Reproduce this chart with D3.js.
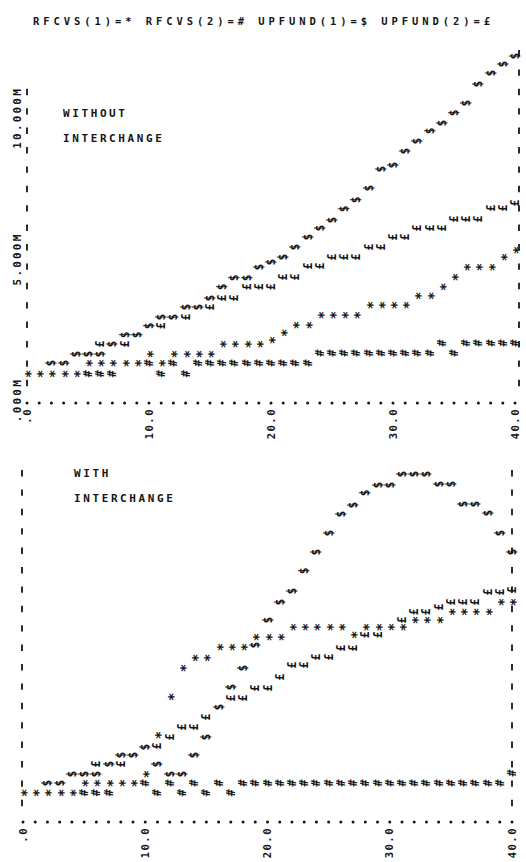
<!DOCTYPE html>
<html>
<head>
<meta charset="utf-8">
<script src="https://cdn.jsdelivr.net/npm/d3@7"></script>
<style>
  body { margin: 0; background: #fff; }
  svg text { font-family: "DejaVu Sans Mono", monospace; font-weight: bold; fill: #161616; }
</style>
</head>
<body>
<svg id="chart" width="526" height="862"></svg>
<script>
// time steps (one printed column per step)
const times = [0,1,2,3,4,5,6,7,8,9,10,11,12,13,14,15,16,17,18,19,20,
               21,22,23,24,25,26,27,28,29,30,31,32,33,34,35,36,37,38,39,40];
const xTicks = [0, 10, 20, 30, 40];
const xTickLabels = [".0", "10.0", "20.0", "30.0", "40.0"];
const yTicks = [0, 5, 10];
const yTickLabels = [".000M", "5.000M", "10.000M"];
const legendText = "RFCVS(1)=*   RFCVS(2)=#   UPFUND(1)=$   UPFUND(2)=£";
const seriesSymbols = ["*", "#", "$", "£"];

// values in millions
// top panel: without interchange
const withoutRfcvs1 = [0.21,0.21,0.21,0.21,0.21,0.58,0.58,0.58,0.58,0.58,0.89,0.58,0.89,0.89,0.89,0.89,
  1.24,1.24,1.24,1.24,1.37,1.62,1.89,1.89,2.23,2.23,2.23,2.23,2.58,2.58,2.58,2.58,2.89,2.89,3.20,3.54,
  3.88,3.88,3.88,4.23,4.47];
const withoutRfcvs2 = [0.21,0.21,0.21,0.21,0.21,0.21,0.21,0.21,0.58,0.58,0.58,0.21,0.58,0.21,0.58,0.58,
  0.58,0.58,0.58,0.58,0.58,0.58,0.58,0.58,0.93,0.93,0.93,0.93,0.93,0.93,0.93,0.93,0.93,0.93,1.27,0.93,
  1.27,1.27,1.27,1.27,1.27];
const withoutUpfund1 = [0.21,0.21,0.58,0.58,0.89,0.89,0.89,1.24,1.55,1.55,1.86,2.16,2.16,2.51,2.51,2.82,
  3.20,3.51,3.51,3.88,4.05,4.23,4.57,4.91,5.22,5.50,5.88,6.19,6.60,7.25,7.39,7.87,8.21,8.56,8.83,9.18,
  9.52,10.17,10.55,10.86,11.13];
const withoutUpfund2 = [0.21,0.21,0.58,0.58,0.89,0.89,1.24,1.24,1.24,1.55,1.86,1.86,2.16,2.16,2.51,2.51,
  2.82,2.82,3.20,3.20,3.20,3.54,3.54,3.92,3.92,4.23,4.23,4.23,4.57,4.57,4.91,4.91,5.22,5.22,5.22,5.53,
  5.53,5.53,5.91,5.91,6.08];

// bottom panel: with interchange
const withRfcvs1 = [0.21,0.21,0.21,0.21,0.21,0.55,0.55,0.55,0.55,0.55,0.86,2.20,3.51,4.50,4.85,4.85,
  5.22,5.22,5.22,5.57,5.57,5.57,5.91,5.91,5.91,5.91,5.91,5.64,5.91,5.91,5.91,5.91,6.15,6.15,6.15,6.43,
  6.43,6.43,6.43,6.77,6.77];
const withRfcvs2 = [0.21,0.21,0.21,0.21,0.21,0.21,0.21,0.21,0.55,0.55,0.55,0.21,0.55,0.21,0.55,0.21,
  0.55,0.21,0.55,0.55,0.55,0.55,0.55,0.55,0.55,0.55,0.55,0.55,0.55,0.55,0.55,0.55,0.55,0.55,0.55,0.55,
  0.55,0.55,0.55,0.55,0.89];
const withUpfund1 = [0.21,0.21,0.55,0.55,0.86,0.86,0.86,1.20,1.51,1.51,1.79,1.20,0.86,0.86,1.51,2.13,
  3.16,3.85,4.50,5.29,6.15,6.77,7.15,7.84,8.49,9.14,9.79,10.10,10.52,10.79,10.79,11.17,11.17,11.17,
  10.82,10.82,10.14,10.14,9.83,9.14,8.49];
const withUpfund2 = [0.21,0.21,0.55,0.55,0.86,0.86,1.20,1.20,1.20,1.51,1.79,1.82,2.13,2.47,2.47,2.82,
  3.16,3.47,3.47,3.81,3.81,4.19,4.60,4.60,4.88,4.88,5.19,5.19,5.64,5.64,5.91,6.15,6.43,6.43,6.60,6.77,
  6.77,6.77,7.11,7.11,7.18];

const panels = [
  { title: ["WITHOUT", "INTERCHANGE"], series: [withoutRfcvs1, withoutRfcvs2, withoutUpfund1, withoutUpfund2],
    x: [27, 515], y: [380, 89], axisY: 403, leftX: 27, rightX: 519,
    leftTop: 92, rightTop: 54, dashBottom: 383, titleX: 63, titleY: 117, yLabels: true },
  { title: ["WITH", "INTERCHANGE"], series: [withRfcvs1, withRfcvs2, withUpfund1, withUpfund2],
    x: [23, 512], y: [799, 508], axisY: 822, leftX: 22, rightX: 512,
    leftTop: 473, rightTop: 473, dashBottom: 803, titleX: 74, titleY: 477, yLabels: false }
];

const svg = d3.select("#chart");
const ink = "#161616";

svg.append("text")
  .attr("x", 33)
  .attr("y", 25)
  .attr("font-size", 10.5)
  .attr("textLength", 457)
  .attr("lengthAdjust", "spacing")
  .text(legendText);

panels.forEach(function(p) {
  const x = d3.scaleLinear().domain([0, 40]).range(p.x);
  const y = d3.scaleLinear().domain([0, 10]).range(p.y);
  const g = svg.append("g");

  // dashed side borders, one dash every second print row
  const dashes = [
    { x: p.leftX, ys: d3.range(p.dashBottom, p.leftTop - 1, -19.4) },
    { x: p.rightX, ys: d3.range(p.dashBottom, p.rightTop - 1, -19.4) }
  ];
  dashes.forEach(function(side) {
    g.selectAll(null)
      .data(side.ys)
      .enter().append("line")
      .attr("x1", side.x).attr("x2", side.x)
      .attr("y1", d => d - 3.2).attr("y2", d => d + 3.2)
      .attr("stroke", ink)
      .attr("stroke-width", 1.8);
  });

  // dotted bottom axis
  g.selectAll("circle")
    .data(times)
    .enter().append("circle")
    .attr("cx", d => x(d))
    .attr("cy", p.axisY)
    .attr("r", 1.5)
    .attr("fill", ink);

  g.selectAll(".xlab")
    .data(xTicks)
    .enter().append("text")
    .attr("class", "xlab")
    .attr("transform", d => `translate(${x(d)},${p.axisY + 5}) rotate(-90)`)
    .attr("text-anchor", "end")
    .attr("dy", "0.35em")
    .attr("font-size", 10.5)
    .attr("letter-spacing", 1.5)
    .text((d, i) => xTickLabels[i]);

  if (p.yLabels) {
    g.selectAll(".ylab")
      .data(yTicks)
      .enter().append("text")
      .attr("class", "ylab")
      .attr("transform", d => `translate(17,${y(d) - 2}) rotate(-90)`)
      .attr("text-anchor", "end")
      .attr("dy", "0.35em")
      .attr("font-size", 11)
      .attr("letter-spacing", 2.2)
      .text((d, i) => yTickLabels[i]);
  }

  p.title.forEach(function(line, k) {
    g.append("text")
      .attr("x", p.titleX)
      .attr("y", p.titleY + k * 25)
      .attr("font-size", 11)
      .attr("letter-spacing", 2.6)
      .text(line);
  });

  // printer marks: one character per cell, the first series wins a shared cell
  const taken = times.map(() => []);
  p.series.forEach(function(values, s) {
    const star = seriesSymbols[s] === "*";
    const pts = times.map((t, i) => ({ t: t, v: values[i], i: i }))
      .filter(function(d) {
        const py = y(d.v);
        if (taken[d.i].some(o => Math.abs(o - py) < 4)) return false;
        taken[d.i].push(py);
        return true;
      });
    // the asterisk sits high in its cell, so nudge it back onto the point
    const nudge = star ? 3 : 0;
    g.selectAll(".s" + s)
      .data(pts)
      .enter().append("text")
      .attr("class", "s" + s)
      .attr("transform", d => `translate(${x(d.t) + nudge},${y(d.v)}) rotate(-90)`)
      .attr("text-anchor", "middle")
      .attr("dominant-baseline", "central")
      .attr("font-size", star ? 14 : 11.5)
      .text(seriesSymbols[s]);
  });
});
</script>
</body>
</html>
